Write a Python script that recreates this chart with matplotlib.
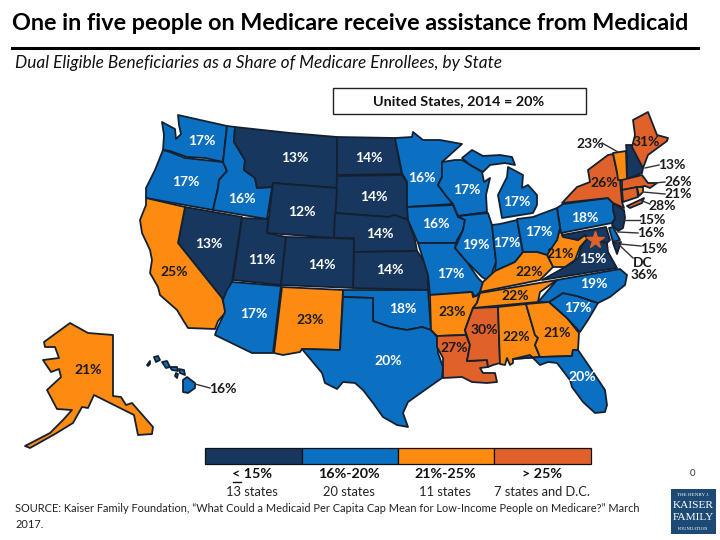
import matplotlib
matplotlib.use('Agg')
import matplotlib.pyplot as plt
from matplotlib.patches import Polygon, Rectangle

plt.rcParams['font.family'] = ['Lato', 'DejaVu Sans']

TIER_COLORS = ['#17375E', '#0B6FC2', '#FD8B12', '#E0622A']
TIER_LABELS = ['< 15%', '16%-20%', '21%-25%', '> 25%']
TIER_COUNTS = ['13 states', '20 states', '11 states', '7 states and D.C.']
OUTLINE = '#14202F'

STATE_VALUES = {
    'WA': 17, 'OR': 17, 'ID': 16, 'MT': 13, 'ND': 14, 'SD': 14, 'WY': 12, 'NE': 14, 'KS': 14,
    'NV': 13, 'CA': 25, 'UT': 11, 'CO': 14, 'AZ': 17, 'NM': 23, 'OK': 18, 'TX': 20, 'MN': 16,
    'IA': 16, 'MO': 17, 'AR': 23, 'LA': 27, 'MS': 30, 'AL': 22, 'GA': 21, 'FL': 20, 'SC': 17,
    'NC': 19, 'VA': 15, 'WV': 21, 'MD': 15, 'DE': 16, 'NJ': 15, 'PA': 18, 'NY': 26, 'VT': 23,
    'NH': 13, 'ME': 31, 'MA': 26, 'CT': 28, 'RI': 21, 'MI': 17, 'WI': 17, 'IL': 19, 'IN': 17,
    'OH': 17, 'KY': 22, 'TN': 22, 'AK': 21, 'HI': 16, 'DC': 36,
}

# state outlines in pixels
STATE_SHAPES = {
    'WA': [[(162, 122), (175, 129), (176, 139), (181, 134), (179, 125), (178, 115), (227, 126), (223, 162), (205, 158), (187, 157), (170, 151), (163, 150), (164, 135)]],
    'OR': [[(163, 150), (170, 152), (185, 158), (223, 162), (227, 171), (219, 180), (218, 188), (213, 210), (146, 198), (146, 188), (155, 170)]],
    'ID': [[(227, 126), (235, 127), (234, 142), (245, 160), (244, 170), (255, 178), (257, 188), (272, 187), (267, 219), (213, 210), (218, 188), (219, 180), (227, 171), (223, 162)]],
    'MT': [[(235, 127), (290, 133), (337, 137), (337, 188), (273, 183), (272, 187), (257, 188), (255, 178), (244, 170), (245, 160), (234, 142)]],
    'ND': [[(337, 137), (395, 138), (402, 174), (337, 175)]],
    'SD': [[(337, 176), (402, 175), (407, 182), (408, 190), (408, 219), (395, 216), (388, 217), (335, 213)]],
    'WY': [[(273, 183), (337, 188), (334, 238), (267, 233)]],
    'NE': [[(335, 213), (388, 217), (395, 215), (408, 220), (415, 240), (417, 251), (354, 252), (354, 238), (334, 238)]],
    'KS': [[(354, 252), (417, 251), (422, 258), (428, 268), (428, 290), (353, 288)]],
    'NV': [[(185, 207), (242, 217), (232, 282), (230, 290), (226, 298), (222, 298), (178, 243)]],
    'CA': [[(146, 198), (185, 207), (178, 243), (222, 298), (226, 312), (218, 321), (215, 329), (188, 328), (183, 320), (177, 310), (160, 295), (158, 287), (150, 273), (152, 260), (150, 250), (142, 233), (140, 220), (146, 205)]],
    'UT': [[(242, 218), (268, 219), (267, 233), (286, 237), (281, 285), (233, 280)]],
    'CO': [[(286, 237), (334, 238), (354, 239), (353, 288), (281, 285)]],
    'AZ': [[(232, 282), (281, 286), (273, 353), (252, 353), (215, 335), (217, 329), (225, 312), (223, 300), (227, 290)]],
    'NM': [[(282, 287), (343, 290), (340, 350), (302, 349), (300, 352), (283, 355), (274, 353)]],
    'OK': [[(343, 290), (428, 290), (431, 330), (422, 327), (407, 330), (390, 327), (373, 321), (373, 298), (343, 297)]],
    'TX': [[(343, 297), (373, 298), (373, 321), (390, 327), (407, 330), (422, 327), (431, 330), (437, 337), (438, 353), (443, 367), (442, 378), (432, 385), (408, 402), (403, 413), (408, 427), (397, 425), (383, 417), (373, 403), (363, 390), (355, 383), (343, 382), (337, 389), (325, 383), (322, 373), (302, 349), (340, 350)]],
    'MN': [[(395, 138), (412, 137), (413, 132), (423, 140), (440, 140), (462, 144), (442, 162), (442, 177), (438, 185), (447, 197), (453, 204), (407, 207), (407, 182), (402, 173)]],
    'IA': [[(407, 207), (453, 205), (458, 217), (465, 220), (463, 230), (457, 240), (456, 243), (418, 243), (408, 220)]],
    'MO': [[(418, 243), (456, 243), (455, 248), (467, 262), (478, 278), (483, 283), (480, 292), (475, 297), (472, 292), (430, 295), (428, 275)]],
    'AR': [[(430, 295), (472, 292), (473, 297), (479, 295), (477, 303), (473, 308), (465, 330), (466, 335), (437, 336), (431, 330)]],
    'LA': [[(437, 336), (466, 335), (470, 345), (467, 361), (487, 360), (488, 367), (480, 368), (483, 373), (495, 373), (497, 382), (487, 383), (472, 382), (462, 377), (443, 378), (443, 358), (437, 347)]],
    'MS': [[(473, 308), (498, 307), (500, 363), (493, 365), (488, 367), (487, 360), (467, 361), (470, 345), (465, 330)]],
    'AL': [[(498, 307), (526, 304), (535, 335), (538, 338), (535, 345), (540, 357), (513, 359), (513, 363), (510, 365), (507, 358), (505, 365), (500, 364)]],
    'GA': [[(526, 304), (549, 302), (567, 318), (579, 333), (578, 350), (573, 350), (572, 356), (540, 357), (535, 345), (538, 338), (535, 335)]],
    'FL': [[(513, 359), (540, 357), (572, 356), (573, 350), (578, 350), (587, 363), (605, 390), (607, 405), (605, 412), (595, 413), (583, 402), (572, 387), (570, 380), (557, 363), (548, 362), (540, 365), (530, 355)]],
    'SC': [[(549, 302), (563, 293), (577, 296), (598, 303), (588, 320), (580, 332), (567, 318)]],
    'NC': [[(538, 302), (549, 302), (563, 293), (577, 296), (598, 303), (610, 297), (625, 285), (627, 275), (620, 269), (557, 280)]],
    'VA': [[(542, 280), (560, 270), (573, 262), (578, 258), (582, 245), (588, 238), (598, 240), (607, 243), (608, 252), (617, 268)]],
    'WV': [[(560, 228), (563, 236), (578, 240), (585, 235), (587, 239), (580, 247), (575, 260), (565, 267), (553, 267), (547, 255), (552, 245), (557, 240)]],
    'MD': [[(562, 235), (606, 227), (610, 240), (607, 243), (598, 240), (588, 238), (585, 235), (578, 240), (563, 237)],
           [(613, 243), (621, 242), (617, 254)]],
    'DE': [[(609, 228), (613, 227), (620, 240), (613, 242)]],
    'NJ': [[(610, 199), (613, 203), (624, 210), (625, 218), (623, 228), (618, 231), (612, 225), (615, 218), (613, 210)]],
    'PA': [[(557, 208), (563, 204), (608, 198), (613, 203), (613, 210), (615, 218), (612, 223), (561, 233)]],
    'NY': [[(562, 203), (577, 187), (590, 182), (588, 170), (608, 155), (613, 154), (617, 172), (620, 180), (622, 202), (624, 208), (613, 203), (608, 198)],
           [(627, 206), (640, 200), (644, 198), (642, 203), (630, 208)]],
    'VT': [[(613, 153), (626, 151), (627, 180), (618, 180), (617, 172)]],
    'NH': [[(626, 145), (632, 145), (643, 168), (642, 173), (627, 179), (627, 155)]],
    'ME': [[(633, 120), (648, 112), (657, 135), (668, 138), (667, 141), (648, 155), (643, 168), (632, 147), (635, 135)]],
    'MA': [[(622, 180), (642, 175), (648, 183), (657, 183), (650, 188), (645, 186), (622, 190)]],
    'CT': [[(622, 190), (637, 187), (638, 197), (623, 202)]],
    'RI': [[(637, 187), (643, 187), (643, 192), (639, 196)]],
    'MI': [[(508, 167), (523, 175), (522, 188), (528, 185), (537, 195), (537, 205), (533, 213), (502, 218), (498, 195), (507, 177)],
           [(462, 158), (472, 150), (483, 156), (500, 155), (512, 157), (515, 165), (505, 163), (490, 165), (483, 172), (470, 165)]],
    'WI': [[(442, 162), (455, 160), (462, 160), (470, 165), (482, 172), (484, 182), (490, 178), (486, 195), (487, 212), (458, 216), (453, 204), (447, 197), (438, 185), (442, 177)]],
    'IL': [[(458, 216), (488, 213), (492, 225), (496, 262), (493, 270), (490, 282), (482, 277), (467, 262), (455, 248), (463, 230), (465, 220)]],
    'IN': [[(492, 225), (500, 224), (517, 220), (523, 252), (515, 262), (495, 271), (496, 262)]],
    'OH': [[(517, 219), (533, 217), (557, 208), (560, 228), (557, 240), (547, 255), (537, 252), (523, 252)]],
    'KY': [[(495, 271), (515, 262), (523, 252), (537, 252), (547, 255), (553, 267), (540, 280), (480, 292), (483, 282)]],
    'TN': [[(480, 293), (557, 280), (540, 292), (538, 302), (473, 308), (477, 303)]],
    'AK': [[(70, 323), (88, 333), (113, 335), (113, 396), (121, 397), (126, 405), (132, 403), (153, 427), (152, 434), (138, 435), (134, 415), (94, 395), (88, 408), (82, 407), (73, 423), (55, 434), (30, 448), (25, 446), (50, 433), (63, 420), (72, 410), (57, 409), (47, 390), (61, 377), (59, 369), (51, 372), (43, 360), (59, 358), (55, 347), (45, 347), (44, 342)]],
    'HI': [[(187, 377), (195, 383), (195, 388), (188, 393), (183, 392), (183, 380)],
           [(154, 357), (158, 356), (160, 360), (156, 362)],
           [(162, 362), (167, 361), (170, 367), (166, 368)],
           [(170, 367), (177, 367), (178, 371), (172, 370)],
           [(179, 369), (184, 370), (185, 375), (180, 373)],
           [(147, 365), (150, 361), (150, 364), (148, 366)],
           [(176, 373), (178, 374), (177, 378), (175, 376)]],
}

# (state, text x, text y)
INNER_LABELS = [
    ('WA', 202, 141), ('OR', 186, 182), ('ID', 242, 199), ('MT', 295, 158), ('ND', 369, 158),
    ('WY', 302, 212), ('SD', 374, 197), ('NE', 380, 234), ('KS', 390, 270), ('NV', 209, 244),
    ('UT', 262, 260), ('CO', 322, 265), ('CA', 174, 272), ('AZ', 254, 314), ('NM', 310, 320),
    ('OK', 403, 309), ('TX', 388, 361), ('MN', 422, 178), ('IA', 436, 224), ('WI', 467, 190),
    ('IL', 476, 245), ('IN', 507, 243), ('MI', 517, 202), ('OH', 539, 232), ('PA', 585, 218),
    ('MO', 451, 274), ('AR', 452, 312), ('LA', 454, 348), ('MS', 484, 330), ('AL', 516, 337),
    ('GA', 557, 333), ('SC', 578, 308), ('FL', 582, 377), ('TN', 515, 296), ('KY', 529, 272),
    ('WV', 560, 254), ('VA', 593, 259), ('NC', 594, 284), ('AK', 88, 370), ('NY', 604, 183),
    ('ME', 646, 142),
]

# (state, text x, text y, line start x, y, line end x, y)
CALLOUTS = [
    ('VT', 590, 144, 618, 152, 602, 143),
    ('NH', 672, 165, 645, 168, 659, 165),
    ('MA', 678, 182, 655, 183, 665, 182),
    ('RI', 678, 194, 643, 192, 665, 194),
    ('CT', 662, 206, 640, 200, 650, 204),
    ('NJ', 652, 220, 624, 220, 640, 220),
    ('DE', 651, 233, 618, 232, 638, 233),
    ('MD', 654, 249, 620, 244, 641, 246),
    ('HI', 223, 389, 195, 384, 210, 388),
]
DC_LINE = (614, 240, 633, 258)
DC_STAR = (595, 240)


def value_color(value):
    if value <= 15:
        return TIER_COLORS[0]
    if value <= 20:
        return TIER_COLORS[1]
    if value <= 25:
        return TIER_COLORS[2]
    return TIER_COLORS[3]


def text_color(value):
    return 'white' if value <= 20 else '#1A1A1A'


def draw_states(ax):
    for state, shapes in STATE_SHAPES.items():
        for shape in shapes:
            ax.add_patch(Polygon(shape, closed=True, facecolor=value_color(STATE_VALUES[state]),
                                 edgecolor=OUTLINE, linewidth=1.3, joinstyle='round'))
    ax.plot(*DC_STAR, marker='*', markersize=13, color=TIER_COLORS[3], zorder=4)


def draw_labels(ax):
    for state, x, y in INNER_LABELS:
        value = STATE_VALUES[state]
        ax.text(x, y, f'{value}%', color=text_color(value), fontsize=10, fontweight='bold',
                ha='center', va='center', zorder=5)
    for state, x, y, x0, y0, x1, y1 in CALLOUTS:
        ax.plot([x0, x1], [y0, y1], color='#333333', linewidth=1, zorder=4)
        ax.text(x, y, f'{STATE_VALUES[state]}%', color='#1A1A1A', fontsize=10, fontweight='bold',
                ha='center', va='center', zorder=5)
    ax.plot(DC_LINE[::2], DC_LINE[1::2], color='#333333', linewidth=1, zorder=4)
    ax.text(643, 263, 'DC', color='#1A1A1A', fontsize=10, fontweight='bold', ha='center', va='center')
    ax.text(644, 275, f"{STATE_VALUES['DC']}%", color='#1A1A1A', fontsize=10, fontweight='bold',
            ha='center', va='center')


def draw_legend(ax):
    edges = [205, 302, 398, 494, 591]
    for i, color in enumerate(TIER_COLORS):
        ax.add_patch(Rectangle((edges[i], 448), edges[i + 1] - edges[i], 16, facecolor=color,
                               edgecolor='#111111', linewidth=0.9))
    for x, label, count in zip([252, 349, 445, 542], TIER_LABELS, TIER_COUNTS):
        ax.text(x, 474, label, fontsize=10.3, fontweight='bold', ha='center', va='center', color='#111111')
        ax.text(x, 492, count, fontsize=9.3, ha='center', va='center', color='#222222')
    # the "<" in the first label is underlined
    ax.plot([233, 241], [481.5, 481.5], color='#111111', linewidth=1)


def draw_frame_text(ax):
    ax.text(12, 23, 'One in five people on Medicare receive assistance from Medicaid', fontsize=16.8,
            fontweight='bold', ha='left', va='center', color='black')
    ax.plot([12, 698], [47.5, 47.5], color='black', linewidth=2.2)
    ax.text(15, 63, 'Dual Eligible Beneficiaries as a Share of Medicare Enrollees, by State', fontsize=12.4,
            style='italic', ha='left', va='center', color='#111111')
    ax.add_patch(Rectangle((333, 88), 253, 26, facecolor='white', edgecolor='#222222', linewidth=1))
    ax.text(459, 101, 'United States, 2014 = 20%', fontsize=10.4, fontweight='bold', ha='center',
            va='center', color='#111111')
    ax.text(15, 508, 'SOURCE: Kaiser Family Foundation, “What Could a Medicaid Per Capita Cap Mean for '
            'Low-Income People on Medicare?” March', fontsize=7.9, ha='left', va='center', color='#222222')
    ax.text(15, 524, '2017.', fontsize=7.9, ha='left', va='center', color='#222222')
    ax.text(693, 474, '0', fontsize=7, ha='center', va='center', color='#333333')


def draw_logo(ax):
    ax.add_patch(Rectangle((671, 489), 45, 45, facecolor='#1D4A75', edgecolor='none'))
    ax.text(693.5, 494.5, 'THE HENRY J.', fontsize=3.6, family='Liberation Serif', color='white',
            ha='center', va='center')
    ax.text(693.5, 505, 'KAISER', fontsize=8.2, family='Liberation Serif', color='white', ha='center', va='center')
    ax.text(693.5, 517, 'FAMILY', fontsize=8.2, family='Liberation Serif', color='white', ha='center', va='center')
    ax.text(693.5, 529, 'FOUNDATION', fontsize=3.4, family='Liberation Serif', color='white', ha='center', va='center')


def main():
    fig = plt.figure(figsize=(7.2, 5.4), dpi=100)
    ax = fig.add_axes([0, 0, 1, 1])
    ax.set_xlim(0, 720)
    ax.set_ylim(540, 0)
    ax.axis('off')
    draw_states(ax)
    draw_labels(ax)
    draw_legend(ax)
    draw_frame_text(ax)
    draw_logo(ax)
    fig.savefig('out.png', dpi=100)


if __name__ == '__main__':
    main()
